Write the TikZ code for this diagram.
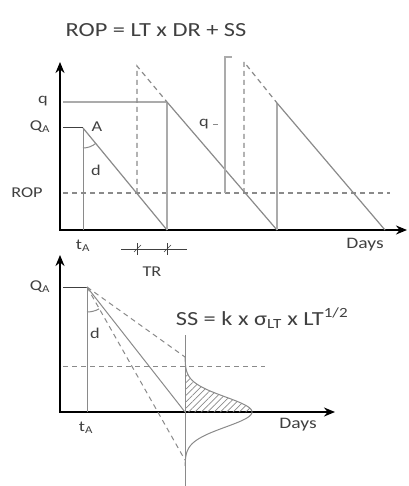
\documentclass[tikz,border=0pt]{standalone}
\usepackage{fontspec}
\setmainfont{Carlito}[FakeStretch=1.22]
\usepackage{tikz}
\usetikzlibrary{calc, patterns.meta, arrows.meta}
\definecolor{ink}{HTML}{404040}
\definecolor{linegray}{HTML}{8A8A8A}
\definecolor{lightline}{HTML}{ABABAB}

\begin{document}
\begin{tikzpicture}[x=1pt, y=-1pt, >={Stealth[length=11pt, width=9pt]},
  axisline/.style={<->, line width=2pt, black},
  saw/.style={draw=linegray, line width=1.2pt},
  jump/.style={draw=lightline, line width=2.2pt},
  guide/.style={draw=linegray, line width=1.2pt, dash pattern=on 5pt off 4pt},
  thin/.style={draw=linegray, line width=1pt},
  lbl/.style={text=ink, font=\fontsize{15}{15}\selectfont, inner sep=0pt},
  formula/.style={text=ink, font=\fontsize{20}{20}\selectfont, inner sep=0pt}]
\useasboundingbox (0,0) rectangle (408,486);

\node[formula] (ropeq) at (156,30) {ROP = LT x DR + SS};

\coordinate (y1) at (60,62);
\coordinate (x1) at (407,230);
\draw[axisline] (y1) |- (x1);

\coordinate (qa0) at (63,128);
\coordinate (A) at (83,128);
\coordinate (ta) at (83,230);
\coordinate (e1) at (167,230);
\coordinate (r1) at (137,193);
\coordinate (p1) at (137,66);
\coordinate (d1) at (167,102);
\coordinate (e2) at (277,230);
\coordinate (r2) at (244,193);
\coordinate (p2) at (244,62);
\coordinate (d2) at (277,103);
\coordinate (e3) at (385,230);
\coordinate (q0) at (63,102);
\coordinate (rop0) at (63,193);
\coordinate (rop1) at (390,193);

\draw[guide] (rop0) -- (rop1);
\draw[jump] (q0) -- (d1);
\draw[draw=ink, line width=1pt] (qa0) -- (A);
\draw[thin] (A) -- (ta);
\draw[thin] (A) ++(50:20) arc (50:90:20);
\draw[saw] (A) -- (e1);
\draw[guide] (r1) -- (p1) -- (d1);
\draw[jump] (d1) -- (e1);
\draw[saw] (d1) -- (e2);
\draw[guide] (r2) -- (p2) -- (d2);
\draw[jump] (d2) -- (e2);
\draw[saw] (d2) -- (e3);

\coordinate (qb0) at (225,193);
\coordinate (qb1) at (225,57);
\coordinate (qb2) at (232,57);
\draw[jump, line width=1.6pt] (qb0) -- (qb1) -- (qb2);
\node[lbl] (qside) at (204,124) {q};
\coordinate (qt0) at (213,125);
\coordinate (qt1) at (218,125);
\draw[thin] (qt0) -- (qt1);

\node[lbl] (qlbl) at (43,101) {q};
\node[lbl] (QAlbl) at (40,127) {Q\textsubscript{A}};
\node[lbl] (Albl) at (97,127) {A};
\node[lbl] (dlbl) at (96,170) {d};
\node[lbl] (roplbl) at (27,193) {ROP};
\node[lbl] (talbl) at (83,246) {t\textsubscript{A}};
\node[lbl, font=\fontsize{16}{16}\selectfont] (days1) at (365,245) {Days};

\coordinate (tr0) at (121,249);
\coordinate (tr1) at (187,249);
\coordinate (tk1) at (137,249);
\coordinate (tk2) at (167,249);
\draw[draw=ink, line width=0.8pt] (tr0) -- (tr1);
\draw[draw=ink, line width=0.8pt] (tk1) ++(0,-6) -- ++(0,12);
\draw[draw=ink, line width=0.8pt] (tk2) ++(0,-6) -- ++(0,12);
\draw[draw=ink, line width=0.6pt] (tk1) ++(-3,3) -- ++(7,-7);
\draw[draw=ink, line width=0.6pt] (tk2) ++(-3,3) -- ++(7,-7);
\node[lbl] (trlbl) at (152,272) {TR};

\coordinate (y2) at (60,255);
\coordinate (x2) at (335,412);
\draw[axisline] (y2) |- (x2);

\coordinate (qa2) at (63,287);
\coordinate (B) at (87,287);
\coordinate (tb) at (87,412);
\coordinate (hi) at (185,357);
\coordinate (mid) at (185,412);
\coordinate (lo) at (185,460);
\coordinate (v0) at (185,335);
\coordinate (v1) at (185,486);
\coordinate (ss0) at (63,366);
\coordinate (ss1) at (265,366);

\fill[pattern={Lines[angle=45, distance=4.5pt, line width=0.7pt]}, pattern color=linegray]
  (185,366) -- plot[domain=366:412, samples=40] ({185+67*exp(-((\x-412)/15)^2/2)}, \x) -- (mid) -- cycle;
\draw[thin] plot[domain=357:466, samples=80] ({185+67*exp(-((\x-412)/15)^2/2)}, \x);
\draw[guide, line width=1pt] (ss0) -- (ss1);
\draw[thin] (v0) -- (v1);
\draw[draw=ink, line width=1pt] (qa2) -- (B);
\draw[thin] (B) -- (tb);
\draw[thin] (B) ++(61:25) arc (61:90:25);
\draw[guide, line width=1pt] (B) -- (hi);
\draw[thin] (B) -- (mid);
\draw[guide, line width=1pt] (B) -- (lo);

\node[lbl] (QAlbl2) at (40,287) {Q\textsubscript{A}};
\node[lbl] (dlbl2) at (95,333) {d};
\node[lbl] (tblbl) at (86,428) {t\textsubscript{A}};
\node[lbl, font=\fontsize{16}{16}\selectfont] (days2) at (298,425) {Days};
\node[formula] (sseq) at (262,318) {SS = k x σ\textsubscript{LT} x LT\textsuperscript{1/2}};
\end{tikzpicture}
\end{document}
